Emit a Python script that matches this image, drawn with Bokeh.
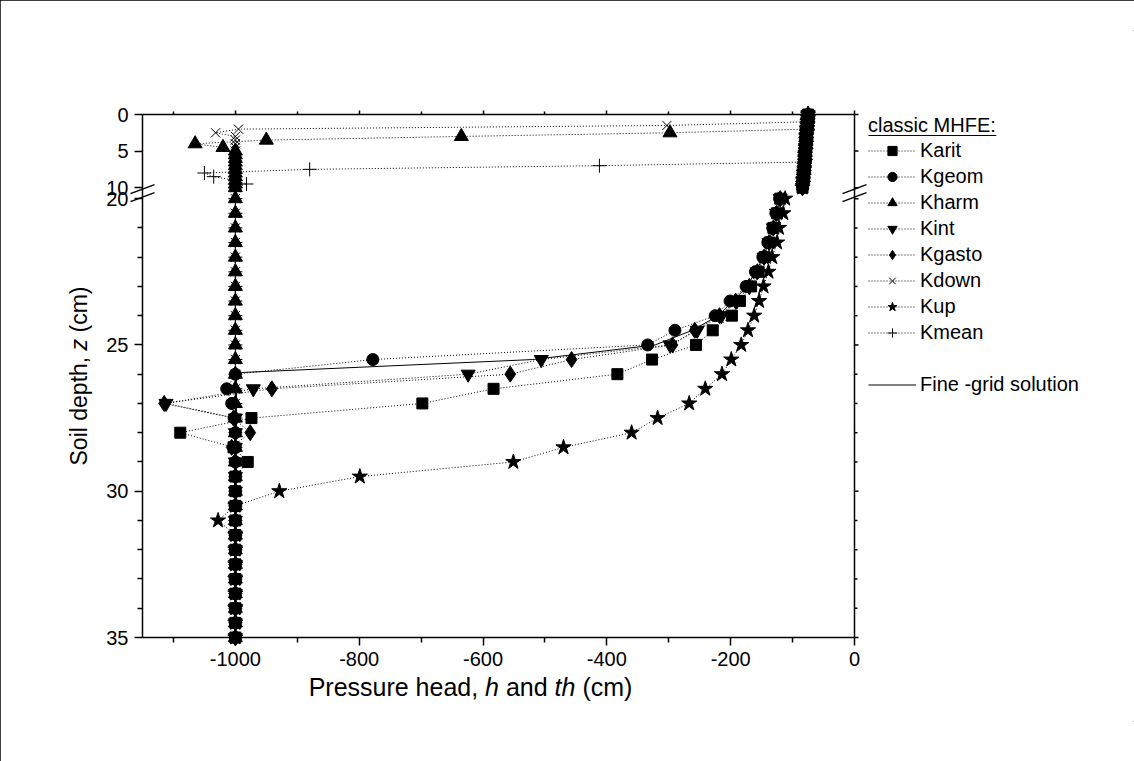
import numpy as np
from bokeh.plotting import figure
from bokeh.models import (Range1d, FixedTicker, LinearAxis, Legend, LegendItem,
                          CustomJSTickFormatter, Label)
from bokeh.embed import file_html
from bokeh.resources import INLINE

# ---------------- data ----------------
z_top = [0, 0.5, 1, 1.5, 2, 2.5, 3, 3.5, 4, 4.5, 5, 5.5, 6, 6.5, 7, 7.5, 8, 8.5, 9, 9.5, 10]
z_bot = [20, 20.5, 21, 21.5, 22, 22.5, 23, 23.5, 24, 24.5, 25, 25.5, 26, 26.5, 27, 27.5,
         28, 28.5, 29, 29.5, 30, 30.5, 31, 31.5, 32, 32.5, 33, 33.5, 34, 34.5, 35]

band_top = [-75, -75, -76, -76, -77, -77, -78, -78, -78, -79, -79, -80, -80, -80, -81, -81,
            -82, -82, -83, -83, -84]

karit_top = band_top
karit_bot = [-120, -125, -131, -137, -145, -155, -167, -185, -198, -229, -256, -327, -383, -583,
             -698, -974, -1089, -1003, -980, -1000, -1000, -1000, -1000, -1000, -1000, -1000,
             -1000, -1000, -1000, -1000, -1000]

kgeom_top = band_top
kgeom_bot = [-121, -127, -132, -140, -148, -160, -175, -201, -225, -290, -334, -778, -1000, -1014,
             -1006, -1002, -1000, -1000, -1000, -1000, -1000, -1000, -1000, -1000, -1000, -1000,
             -1000, -1000, -1000, -1000, -1000]

kharm_top = [-75, -75, -76, -76, -77, -298, -635, -950, -1065, -1020, -1000, -1000, -1000, -1000,
             -1000, -1000, -1000, -1000, -1000, -1000, -1000]
kharm_bot = [-1000] * 31

kint_top = band_top
kint_bot = [-120, -126, -131, -138, -146, -157, -170, -190, -215, -254, -298, -506, -624, -971,
            -1112, -1000, -1000, -1000, -1000, -1000, -1000, -1000, -1000, -1000, -1000, -1000,
            -1000, -1000, -1000, -1000, -1000]

kgasto_top = band_top
kgasto_bot = [-120, -126, -131, -138, -146, -157, -170, -192, -218, -258, -294, -457, -556, -941,
              -1115, -1003, -976, -1006, -1000, -1000, -1000, -1000, -1000, -1000, -1000, -1000,
              -1000, -1000, -1000, -1000, -1000]

kdown_top = [-75, -75, -76, -303, -995, -1032, -1000, -1000, -1000, -1000, -1000, -1000, -1000,
             -1000, -1000, -1000, -1000, -1000, -1000, -1000, -1000]
kdown_bot = [-1000] * 31

kup_top = band_top
kup_bot = [-112, -115, -122, -125, -133, -139, -147, -154, -162, -172, -183, -199, -214, -241,
           -267, -318, -360, -470, -551, -799, -929, -1000, -1028, -1000, -1000, -1000, -1000,
           -1000, -1000, -1000, -1000]

kmean_top = [-75, -75, -76, -76, -77, -77, -78, -78, -78, -79, -79, -80, -80, -80, -412, -880,
             -1050, -1035, -1000, -982, -1000]
kmean_bot = [-1000] * 31

fine_z_top = [0, 10]
fine_top = [-75, -84]
fine_z_bot = [20, 21, 22, 23, 24, 24.5, 25, 25.5, 25.95, 35]
fine_bot = [-119, -131, -147, -173, -220, -262, -322, -520, -998, -1000]

x_ticks = [-1000, -800, -600, -400, -200, 0]
x_labels = ["-1000", "-800", "-600", "-400", "-200", "0"]
x_minor = [-1100, -900, -700, -500, -300, -100]
y_major = [0, 5, 10, 20, 25, 30, 35]
y_minor = [21, 22, 23, 24, 26, 27, 28, 29, 31, 32, 33, 34]

# ---------------- broken-axis transform ----------------
TOP_SCALE = 0.25
GAP = 0.376


def yd(z):
    z = np.asarray(z, dtype=float)
    return np.where(z <= 10, z * TOP_SCALE, 10 * TOP_SCALE + GAP + (z - 20))


def joined(top, bot, zt=z_top, zb=z_bot):
    x = list(top) + [np.nan] + list(bot)
    y = list(yd(zt)) + [np.nan] + list(yd(zb))
    return np.array(x, dtype=float), np.array(y, dtype=float)


FONT = "Liberation Sans"
TICK_PX = 20
XTITLE_PX = 25
YTITLE_PX = 23
LEG_PX = 20

W, H = 1134, 761
BOX_L, BOX_R, BOX_T, BOX_B = 142, 854, 114, 637      # plot box in page pixels
ML, MT, MB = 40, 30, 40                               # canvas borders around the frame
Y_BOTTOM = float(yd(35))
X_LEFT, X_RIGHT = -1150, 0
PX_PER_X = (BOX_R - BOX_L) / (X_RIGHT - X_LEFT)
PX_PER_Y = (BOX_B - BOX_T) / Y_BOTTOM


def px2x(px):
    return X_LEFT + (px - BOX_L) / PX_PER_X


def py2y(py):
    return (py - BOX_T) / PX_PER_Y


p = figure(frame_width=W - ML, frame_height=H - MT - MB, output_backend="svg",
           toolbar_location=None,
           x_range=Range1d(px2x(ML), px2x(W)), y_range=Range1d(py2y(H - MB), py2y(MT)),
           min_border_left=ML, min_border_right=0, min_border_top=MT, min_border_bottom=MB,
           x_axis_location=None, y_axis_location=None,
           background_fill_color="white", border_fill_color="white",
           styles={"outline": "1px solid black", "outline-offset": "-1px"})
p.grid.visible = False
p.outline_line_color = None

ymaj = [float(v) for v in yd(y_major)]
ymin = [float(v) for v in yd(y_minor)]
y_over = {v: str(lab) for v, lab in zip(ymaj, y_major)}
x_over = {t: lab for t, lab in zip(x_ticks, x_labels)}
blank_fmt = CustomJSTickFormatter(code="return ''")


def style_axis(ax, labels=True):
    ax.axis_line_color = "black"
    ax.axis_line_width = 1.5
    ax.major_tick_line_width = 1.5
    ax.minor_tick_line_width = 1.5
    ax.major_tick_in = 0
    ax.minor_tick_in = 0
    ax.major_tick_out = 8
    ax.minor_tick_out = 5
    ax.major_label_text_font = FONT
    ax.major_label_text_font_size = f"{TICK_PX}px"
    ax.major_label_text_color = "black" if labels else None


xb = LinearAxis(ticker=FixedTicker(ticks=x_ticks, minor_ticks=x_minor),
                major_label_overrides=x_over, bounds=(X_LEFT, X_RIGHT),
                fixed_location=Y_BOTTOM)
style_axis(xb)
xb.major_label_standoff = 6
p.add_layout(xb, "below")

xt = LinearAxis(ticker=FixedTicker(ticks=x_ticks, minor_ticks=x_minor), formatter=blank_fmt,
                bounds=(X_LEFT, X_RIGHT), fixed_location=0.0)
style_axis(xt, labels=False)
xt.major_tick_out = 4
xt.minor_tick_out = 3
xt.major_label_standoff = 0
p.add_layout(xt, "above")

yl = LinearAxis(ticker=FixedTicker(ticks=ymaj, minor_ticks=ymin),
                major_label_overrides=y_over, bounds=(0.0, Y_BOTTOM),
                fixed_location=X_LEFT)
style_axis(yl)
yl.major_label_standoff = 6
p.add_layout(yl, "left")

# right edge of the plot box with its small outward ticks
p.segment(x0=[X_RIGHT], y0=[0.0], x1=[X_RIGHT], y1=[Y_BOTTOM], line_color="black",
          line_width=1.5)
p.segment(x0=[X_RIGHT] * len(ymaj), y0=ymaj, x1=[X_RIGHT + 4 / PX_PER_X] * len(ymaj), y1=ymaj,
          line_color="black", line_width=1.5)
p.segment(x0=[X_RIGHT] * len(ymin), y0=ymin, x1=[X_RIGHT + 3 / PX_PER_X] * len(ymin), y1=ymin,
          line_color="black", line_width=1.5)

# ---------------- axis titles with italic symbols ----------------
ADV = {"P": 667, "r": 333, "e": 556, "s": 500, "u": 556, " ": 278, "h": 556, "a": 556,
       "d": 556, ",": 278, "n": 556, "t": 278, "(": 333, "c": 500, "m": 833, ")": 333,
       "S": 667, "o": 556, "i": 222, "l": 222, "p": 556, "z": 500}


def text_w(s, px):
    return sum(ADV.get(ch, 556) for ch in s) * px / 1000.0


def rich_title(parts, px, horizontal, center_px, cross_px):
    total = sum(text_w(s, px) for s, _ in parts)
    pos = -total / 2
    for s, style in parts:
        stripped = s.strip()
        lead = text_w(s[: len(s) - len(s.lstrip())], px)
        if stripped:
            if horizontal:
                lab = Label(x=px2x(center_px + pos + lead), y=py2y(cross_px), text=stripped,
                            text_align="left", text_baseline="middle")
            else:
                lab = Label(x=px2x(cross_px), y=py2y(center_px - pos - lead), text=stripped,
                            text_align="left", text_baseline="middle", angle=np.pi / 2)
            lab.text_font = FONT
            lab.text_font_size = f"{px}px"
            lab.text_font_style = style
            lab.text_color = "black"
            p.add_layout(lab)
        pos += text_w(s, px)


rich_title([("Pressure head, ", "normal"), ("h", "italic"), (" and ", "normal"),
            ("th", "italic"), (" (cm)", "normal")], XTITLE_PX, True, 470, 686)
rich_title([("Soil depth, ", "normal"), ("z", "italic"), (" (cm)", "normal")],
           YTITLE_PX, False, (BOX_T + BOX_B) / 2, 78)

# ---------------- series ----------------
DOT = "1 2"
series = [
    ("Karit", karit_top, karit_bot, "square", 11),
    ("Kgeom", kgeom_top, kgeom_bot, "circle", 12),
    ("Kharm", kharm_top, kharm_bot, "triangle", 14),
    ("Kint", kint_top, kint_bot, "inverted_triangle", 14),
    ("Kgasto", kgasto_top, kgasto_bot, "diamond", 16),
    ("Kdown", kdown_top, kdown_bot, "x", 13),
    ("Kup", kup_top, kup_bot, "star", 16),
    ("Kmean", kmean_top, kmean_bot, "cross", 14),
]

items = []
for name, top, bot, marker, size in series:
    x, y = joined(top, bot)
    lr = p.line(x, y, line_color="black", line_width=1, line_dash=DOT)
    if marker in ("x", "cross"):
        sr = p.scatter(x, y, marker=marker, size=size, line_color="black", line_width=1,
                       fill_color=None)
    else:
        sr = p.scatter(x, y, marker=marker, size=size, line_color="black", fill_color="black")
    items.append(LegendItem(label=name, renderers=[lr, sr]))

fx, fy = joined(fine_top, fine_bot, fine_z_top, fine_z_bot)
fr = p.line(fx, fy, line_color="black", line_width=1)
blank = p.line([X_LEFT], [0.0], line_alpha=0)
items.append(LegendItem(label=" ", renderers=[blank]))
items.append(LegendItem(label="Fine -grid solution", renderers=[fr]))

N_ITEMS = len(items)
ITEM_H, SPACING, TITLE_H, TITLE_GAP = 23, 3, 23, 2
LEG_H = TITLE_H + TITLE_GAP + N_ITEMS * ITEM_H + (N_ITEMS - 1) * SPACING
LEG_LEFT, LEG_TOP = 868, 114
legend = Legend(items=items, location=(LEG_LEFT - ML, (H - MB) - (LEG_TOP + LEG_H)),
                title="classic MHFE:",
                border_line_color=None, background_fill_alpha=0,
                label_text_font=FONT, label_text_font_size=f"{LEG_PX}px",
                label_text_color="black",
                title_text_font=FONT, title_text_font_size=f"{LEG_PX}px",
                title_text_font_style="normal", title_text_color="black",
                title_standoff=TITLE_GAP,
                glyph_width=48, glyph_height=ITEM_H, label_height=ITEM_H, spacing=SPACING,
                label_standoff=4, padding=0, margin=0)
p.add_layout(legend)

# underline of the legend title  (Liberation Sans advance widths)
TITLE_ADV = [500, 222, 556, 500, 500, 222, 500, 278, 833, 722, 611, 667, 278]
ul_w = sum(TITLE_ADV) * LEG_PX / 1000
p.segment(x0=[px2x(LEG_LEFT)], y0=[py2y(135)], x1=[px2x(LEG_LEFT + ul_w)], y1=[py2y(135)],
          line_color="black", line_width=1.2)

# axis-break marks (//) across both box edges
brk_y = float(10 * TOP_SCALE + GAP / 2)
dx = 12 / PX_PER_X
dy = 4.5 / PX_PER_Y
sep = 4 / PX_PER_Y
bx0, by0, bx1, by1 = [], [], [], []
for xc in (X_LEFT, X_RIGHT):
    for off in (-sep, sep):
        bx0.append(xc - dx)
        by0.append(brk_y + off + dy)
        bx1.append(xc + dx)
        by1.append(brk_y + off - dy)
p.segment(x0=bx0, y0=by0, x1=bx1, y1=by1, line_color="black", line_width=1.5)

open("out.html", "w").write(file_html(p, INLINE))
